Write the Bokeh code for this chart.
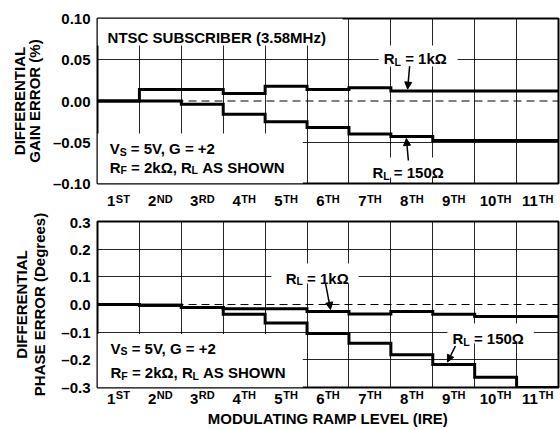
import math
from bokeh.plotting import figure
from bokeh.layouts import column
from bokeh.models import (FixedTicker, Label, Arrow, NormalHead, Span, CustomJSTickFormatter,
                          LinearAxis)
from bokeh.embed import file_html
from bokeh.resources import INLINE

# ---------------- data ----------------
levels = ["1", "2", "3", "4", "5", "6", "7", "8", "9", "10", "11"]
suffixes = ["ST", "ND", "RD", "TH", "TH", "TH", "TH", "TH", "TH", "TH", "TH"]

gain_1k = [0.000, 0.014, 0.014, 0.009, 0.018, 0.014, 0.016, 0.012, 0.012, 0.012, 0.012]
gain_150 = [0.000, 0.000, -0.004, -0.016, -0.025, -0.032, -0.040, -0.043, -0.048, -0.048, -0.048]
phase_1k = [0.000, -0.003, -0.011, -0.015, -0.015, -0.025, -0.034, -0.025, -0.035, -0.043, -0.043]
phase_150 = [0.000, -0.003, -0.011, -0.035, -0.067, -0.105, -0.140, -0.182, -0.217, -0.263, -0.300]

gain_ticks = [-0.10, -0.05, 0.00, 0.05, 0.10]
gain_tick_labels = ["\u20130.10", "\u20130.05", "0.00", "0.05", "0.10"]
phase_ticks = [-0.3, -0.2, -0.1, 0.0, 0.1, 0.2, 0.3]
phase_tick_labels = ["\u20130.3", "\u20130.2", "\u20130.1", "0.0", "0.1", "0.2", "0.3"]

# ---------------- style ----------------
FONT = "Liberation Sans"
MAIN = 15
SUB = 10.5
SUP = 11
W = 560
BL, BR = 97, 2
FRAME_W = W - BL - BR
NCOL = len(levels)
KX = FRAME_W / NCOL
NB = "\u00a0"

# Arial-bold advance widths (per 1000 em)
AW = {" ": 278, NB: 278, "(": 333, ")": 333, "%": 889, "+": 584, ",": 278, ".": 278, "=": 584,
      "\u03a9": 780, "\u2013": 556, "k": 556, "z": 500, "e": 556, "g": 611, "r": 389, "s": 556}
for c in "0123456789":
    AW[c] = 556
AW.update({"A": 722, "B": 722, "C": 722, "D": 722, "E": 667, "F": 611, "G": 778, "H": 722,
           "I": 278, "L": 611, "M": 833, "N": 722, "O": 778, "P": 667, "R": 722, "S": 667,
           "T": 611, "U": 722, "V": 667, "W": 944})


def tw(s, size):
    return sum(AW.get(c, 600) for c in s) * size / 1000.0


def rich(p, x, y, runs):
    off = 0
    for t, s, dy in runs:
        p.add_layout(Label(x=x, y=y, x_offset=off, y_offset=dy,
                           text=t.replace(" ", NB), text_font=FONT, text_font_style="bold",
                           text_color="black", text_font_size=f"{s}px",
                           text_baseline="alphabetic", text_align="left"))
        off += tw(t, s)


def lookup_formatter(vals, labels):
    return CustomJSTickFormatter(args=dict(tvals=vals, tlabels=labels), code="""
        let best = 0, d = Infinity;
        for (let i = 0; i < tvals.length; i++) {
            const e = Math.abs(tvals[i] - tick);
            if (e < d) { d = e; best = i; }
        }
        return tlabels[best];
    """)


def style_axis(ax, size, standoff):
    ax.major_tick_out = 0
    ax.major_tick_in = 0
    ax.minor_tick_out = 0
    ax.minor_tick_in = 0
    ax.axis_line_color = None
    ax.major_label_standoff = standoff
    ax.major_label_text_font = FONT
    ax.major_label_text_font_style = "bold"
    ax.major_label_text_font_size = f"{size}px"
    ax.major_label_text_color = "black"
    ax.axis_label_text_font = FONT
    ax.axis_label_text_font_style = "bold"
    ax.axis_label_text_font_size = f"{MAIN}px"
    ax.axis_label_text_color = "black"


def level_positions():
    num_c, sup_c = [], []
    for i in range(NCOL):
        nw = tw(levels[i], MAIN)
        sw = tw(suffixes[i], SUP)
        gap = 0.5
        start = -(nw + sw + gap) / 2
        num_c.append(i + 0.5 + (start + nw / 2) / KX)
        sup_c.append(i + 0.5 + (start + nw + gap + sw / 2) / KX)
    return num_c, sup_c


def make_fig(height, btop, bbot, yr, ticks, labels, ytitle, ytitle_standoff, ytitle_lh,
             sup_standoff, num_standoff):
    p = figure(width=W, height=height, x_range=(0, NCOL), y_range=yr,
               output_backend="svg", toolbar_location=None,
               min_border_left=BL, min_border_right=BR,
               min_border_top=btop, min_border_bottom=bbot)
    p.background_fill_color = "white"
    p.border_fill_color = "white"
    p.outline_line_color = "black"
    p.outline_line_width = 2
    # y axis
    ax = p.yaxis[0]
    ax.ticker = FixedTicker(ticks=ticks)
    ax.formatter = lookup_formatter(ticks, labels)
    style_axis(ax, MAIN, 7)
    ax.axis_label = ytitle
    ax.axis_label_standoff = ytitle_standoff
    ax.axis_label_text_line_height = ytitle_lh
    # x axes: superscripts (A) and level numbers (B)
    num_c, sup_c = level_positions()
    axa = p.xaxis[0]
    axa.ticker = FixedTicker(ticks=sup_c)
    axa.formatter = lookup_formatter(sup_c, suffixes)
    style_axis(axa, SUP, sup_standoff)
    axb = LinearAxis(ticker=FixedTicker(ticks=num_c), formatter=lookup_formatter(num_c, levels))
    style_axis(axb, MAIN, num_standoff)
    p.add_layout(axb, "below")
    # grid
    p.xgrid.ticker = FixedTicker(ticks=list(range(1, NCOL)))
    p.ygrid.ticker = FixedTicker(ticks=[t for t in ticks if t != 0 and t != ticks[0] and t != ticks[-1]])
    for g in (p.xgrid[0], p.ygrid[0]):
        g.grid_line_color = "black"
        g.grid_line_width = 1
        g.grid_line_alpha = 0.85
    p.add_layout(Span(location=0, dimension="width", line_color="black",
                      line_width=1, line_dash="8 5"))
    return p, axb


def box(p, l, r, t, b):
    p.quad(left=[l], right=[r], top=[t], bottom=[b], fill_color="white", line_color=None)


def step(p, vals):
    xs = list(range(len(vals) + 1))
    ys = list(vals) + [vals[-1]]
    p.step(xs, ys, mode="after", line_width=3, line_color="black", line_join="miter")


def arrow(p, ky, xt, yv, tip_dy, dx, dy):
    y_tip = yv + tip_dy / ky
    p.add_layout(Arrow(end=NormalHead(size=7, fill_color="black", line_color="black", line_width=1),
                       x_start=xt + dx / KX, y_start=y_tip + dy / ky,
                       x_end=xt, y_end=y_tip, line_width=1.5, line_color="black"))


# ---------------- top: differential gain ----------------
top, top_axb = make_fig(213, 18, 30, (-0.10, 0.10), gain_ticks, gain_tick_labels,
                        "DIFFERENTIAL\nGAIN ERROR (%)", 7, 0.9, 9, -12)
KY1 = 165 / 0.20
box(top, 0, 5.85, 0.10, 0.0673)
box(top, 0, 4.9, -0.0394, -0.10)
box(top, 6.71, 8.59, 0.0673, 0.0418)
box(top, 6.47, 8.47, -0.0685, -0.0927)
step(top, gain_1k)
step(top, gain_150)
rich(top, 0.24, 0.0764, [("NTSC SUBSCRIBER (3.58MHz)", MAIN, 0)])
rich(top, 0.29, -0.0576, [("V", MAIN, 0), ("S", SUB, -3), (" = 5V, G = +2", MAIN, 0)])
rich(top, 0.29, -0.0806, [("R", MAIN, 0), ("F", SUB, -3), (" = 2k\u03a9, R", MAIN, 0),
                          ("L", SUB, -3), (" AS SHOWN", MAIN, 0)])
rich(top, 6.83, 0.0515, [("R", MAIN, 0), ("L", SUB, -3), (" = 1k\u03a9", MAIN, 0)])
rich(top, 6.56, -0.0867, [("R", MAIN, 0), ("L", SUB, -3), (" = 150\u03a9", MAIN, 0)])
arrow(top, KY1, 7.40, gain_1k[7], 2, 2, 23)
arrow(top, KY1, 7.37, gain_150[7], -2, 2, -22)

# ---------------- bottom: differential phase ----------------
bot, bot_axb = make_fig(217, 8, 43, (-0.3, 0.3), phase_ticks, phase_tick_labels,
                        "DIFFERENTIAL\nPHASE ERROR (Degrees)", 10, 1.05, 1, -10)
bot_axb.axis_label = "MODULATING RAMP LEVEL (IRE)"
bot_axb.axis_label_standoff = 3
KY2 = 166 / 0.6
box(bot, 0, 4.9, -0.107, -0.3)
box(bot, 4.15, 6.23, 0.148, 0.076)
box(bot, 8.35, 10.41, -0.0686, -0.141)
step(bot, phase_1k)
step(bot, phase_150)
rich(bot, 0.31, -0.159, [("V", MAIN, 0), ("S", SUB, -3), (" = 5V, G = +2", MAIN, 0)])
rich(bot, 0.31, -0.246, [("R", MAIN, 0), ("F", SUB, -3), (" = 2k\u03a9, R", MAIN, 0),
                         ("L", SUB, -3), (" AS SHOWN", MAIN, 0)])
rich(bot, 4.49, 0.095, [("R", MAIN, 0), ("L", SUB, -3), (" = 1k\u03a9", MAIN, 0)])
rich(bot, 8.47, -0.123, [("R", MAIN, 0), ("L", SUB, -3), (" = 150\u03a9", MAIN, 0)])
arrow(bot, KY2, 5.56, phase_1k[5], 2, -5, 26)
arrow(bot, KY2, 8.35, phase_150[8], 2.5, 8, 16)

layout = column(top, bot, spacing=0)
open("out.html", "w").write(file_html(layout, INLINE))
